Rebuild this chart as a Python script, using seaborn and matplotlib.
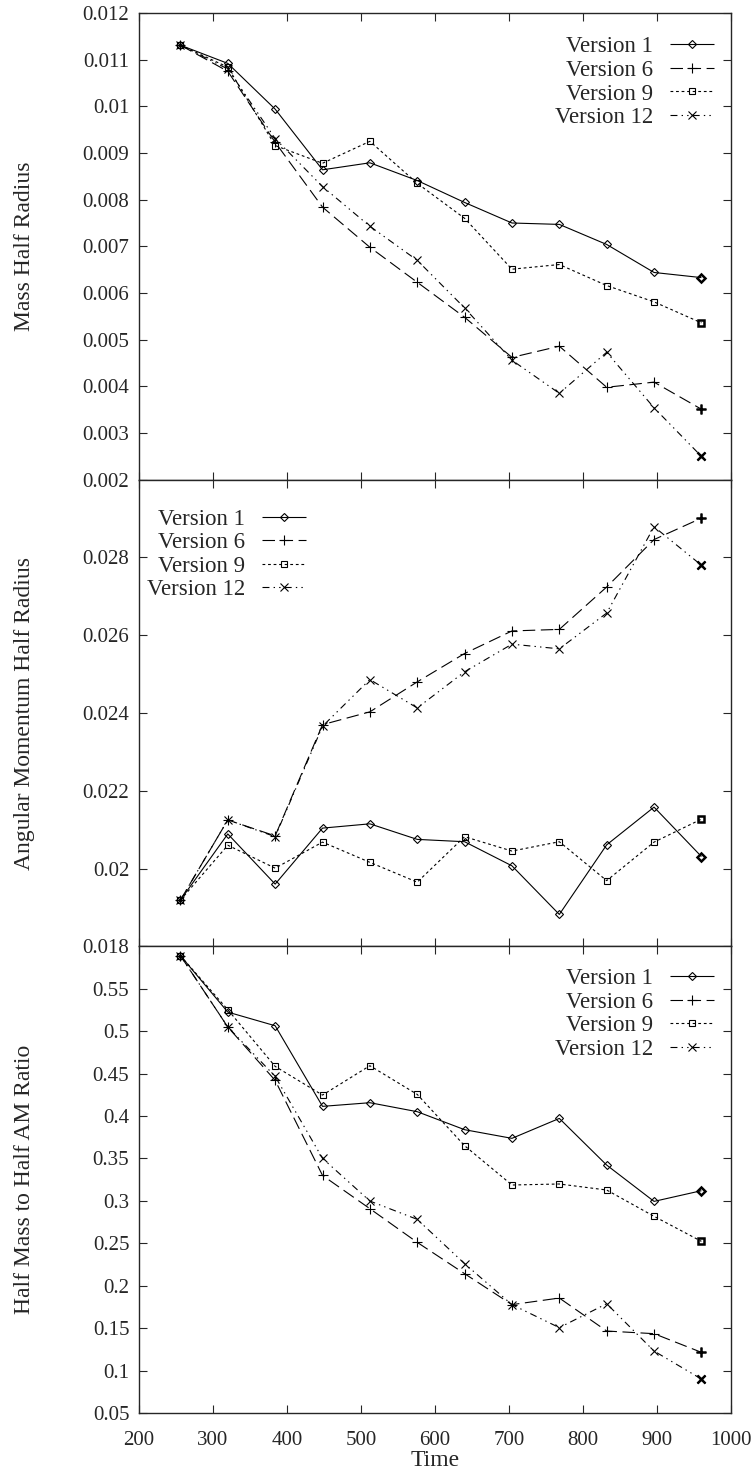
import numpy as np
import pandas as pd
import matplotlib as mpl
mpl.use('Agg')
import matplotlib.pyplot as plt
import seaborn as sns

# time steps
time = [256, 320, 384, 448, 512, 576, 640, 704, 768, 832, 896, 960]
versions = ["Version 1", "Version 6", "Version 9", "Version 12"]

# Mass Half Radius
mass_v1 = [0.01131, 0.01092, 0.00994, 0.00864, 0.00879, 0.00841, 0.00794, 0.00750, 0.00747, 0.00704, 0.00644, 0.00633]
mass_v6 = [0.01131, 0.01075, 0.00923, 0.00784, 0.00698, 0.00623, 0.00548, 0.00462, 0.00486, 0.00398, 0.00409, 0.00351]
mass_v9 = [0.01131, 0.01084, 0.00916, 0.00878, 0.00925, 0.00835, 0.00760, 0.00651, 0.00661, 0.00616, 0.00581, 0.00536]
mass_v12 = [0.01131, 0.01080, 0.00931, 0.00828, 0.00743, 0.00670, 0.00568, 0.00456, 0.00385, 0.00473, 0.00354, 0.00250]

# Angular Momentum Half Radius
am_v1 = [0.01919, 0.02089, 0.01960, 0.02104, 0.02115, 0.02075, 0.02069, 0.02007, 0.01882, 0.02061, 0.02158, 0.02031]
am_v6 = [0.01919, 0.02125, 0.02084, 0.02370, 0.02403, 0.02480, 0.02553, 0.02611, 0.02615, 0.02724, 0.02846, 0.02901]
am_v9 = [0.01919, 0.02060, 0.02001, 0.02068, 0.02016, 0.01965, 0.02082, 0.02045, 0.02069, 0.01969, 0.02068, 0.02127]
am_v12 = [0.01919, 0.02125, 0.02082, 0.02366, 0.02486, 0.02413, 0.02506, 0.02577, 0.02565, 0.02657, 0.02879, 0.02780]

# Half Mass to Half AM Ratio
ratio_v1 = [0.589, 0.5225, 0.5064, 0.4114, 0.4157, 0.4051, 0.3839, 0.3737, 0.3972, 0.3422, 0.2994, 0.3120]
ratio_v6 = [0.589, 0.5049, 0.4420, 0.3300, 0.2908, 0.2511, 0.2142, 0.1777, 0.1855, 0.1466, 0.1435, 0.1215]
ratio_v9 = [0.589, 0.5253, 0.4585, 0.4247, 0.4593, 0.4255, 0.3650, 0.3187, 0.3199, 0.3128, 0.2818, 0.2523]
ratio_v12 = [0.589, 0.5050, 0.4467, 0.3501, 0.2998, 0.2782, 0.2260, 0.1777, 0.1506, 0.1788, 0.1230, 0.0900]

x_ticks = [200, 300, 400, 500, 600, 700, 800, 900, 1000]
mass_ticks = [0.002, 0.003, 0.004, 0.005, 0.006, 0.007, 0.008, 0.009, 0.01, 0.011, 0.012]
am_ticks = [0.018, 0.02, 0.022, 0.024, 0.026, 0.028]
ratio_ticks = [0.05, 0.1, 0.15, 0.2, 0.25, 0.3, 0.35, 0.4, 0.45, 0.5, 0.55]

sns.set_style("ticks")
plt.rcParams['font.family'] = ['Liberation Serif', 'DejaVu Serif']
plt.rcParams['lines.scale_dashes'] = False
plt.rcParams['axes.linewidth'] = 1.0
FS = 15      # tick labels
FS_LAB = 17  # axis labels
FS_LEG = 16.5

# line style per version: (marker, markersize, dashes)
styles = {
    "Version 1": ("D", 4.2, (0, ())),
    "Version 6": ("+", 7.0, (0, (9, 4))),
    "Version 9": ("s", 4.8, (0, (2, 2))),
    "Version 12": ("x", 6.0, (0, (5, 3, 1, 3, 1, 3))),
}

fig = plt.figure(figsize=(7.56, 14.71), dpi=100)
gs = fig.add_gridspec(3, 1, left=139/756, right=731/756,
                      bottom=1-1413/1471, top=1-13/1471, hspace=0)
axes = [fig.add_subplot(gs[i]) for i in range(3)]

panels = [
    ([mass_v1, mass_v6, mass_v9, mass_v12], "Mass Half Radius", (0.002, 0.012), mass_ticks),
    ([am_v1, am_v6, am_v9, am_v12], "Angular Momentum Half Radius", (0.018, 0.030), am_ticks),
    ([ratio_v1, ratio_v6, ratio_v9, ratio_v12], "Half Mass to Half AM Ratio", (0.05, 0.60), ratio_ticks),
]

# legend placement per panel: (loc, anchor)
leg_pos = [("upper right", (0.971, 0.950)),
           ("upper left", (0.0135, 0.938)),
           ("upper right", (0.971, 0.953))]

for k, (ax, (series, ylabel, ylim, yticks)) in enumerate(zip(axes, panels)):
    for name, vals in zip(versions, series):
        df = pd.DataFrame({"time": time, "value": vals})
        mk, ms, ls = styles[name]
        sns.lineplot(data=df, x="time", y="value", ax=ax, color="black",
                     linewidth=0.8, linestyle=ls, marker=mk, markersize=ms,
                     markerfacecolor="none", markeredgecolor="black",
                     markeredgewidth=0.8, label=name, legend=False)
    lines = ax.get_lines()[:4]
    # last point of every curve is drawn heavier in the original
    for name, vals in zip(versions, series):
        mk, ms, ls = styles[name]
        ax.plot(time[-1:], vals[-1:], linestyle="none", marker=mk, markersize=ms,
                markerfacecolor="none", markeredgecolor="black", markeredgewidth=1.8)

    ax.set_xlim(200, 1000)
    ax.set_ylim(*ylim)
    ax.set_xticks(x_ticks)
    ax.set_yticks(yticks)
    ax.set_yticklabels(["%g" % v for v in yticks])
    ax.tick_params(direction="in", length=6, width=0.8, top=True, right=True,
                   labelsize=FS, pad=7)
    ax.set_ylabel(ylabel, fontsize=FS_LAB)
    ax.yaxis.set_label_coords(-0.175, 0.5)
    if k < 2:
        ax.tick_params(labelbottom=False)
        ax.set_xlabel("")
    else:
        ax.set_xlabel("Time", fontsize=17, labelpad=0)
        ax.tick_params(axis="x", pad=13)
    for sp in ax.spines.values():
        sp.set_visible(True)
        sp.set_linewidth(1.0)

    loc, anchor = leg_pos[k]
    # markerfirst=False puts the sample after the text, rows right aligned like gnuplot
    ax.legend(lines, versions, loc=loc, bbox_to_anchor=anchor,
              frameon=False, markerfirst=False, fontsize=FS_LEG, handlelength=1.9,
              labelspacing=0.11, handletextpad=0.74, borderaxespad=0,
              borderpad=0, numpoints=1)

plt.savefig("out.png", dpi=100)
